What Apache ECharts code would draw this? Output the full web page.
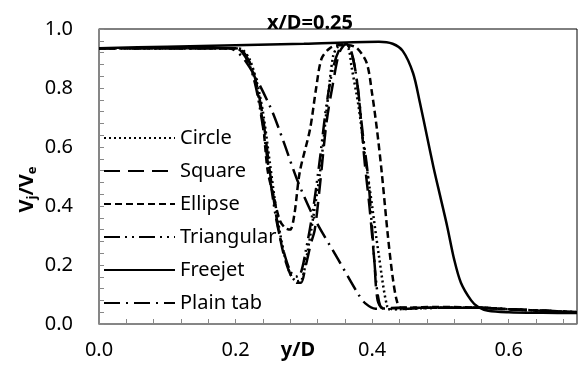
<!DOCTYPE html>
<html>
<head>
<meta charset="utf-8">
<script src="https://cdn.jsdelivr.net/npm/echarts@6/dist/echarts.min.js"></script>
<style>html,body{margin:0;padding:0;background:#fff}#c{width:581px;height:372px}</style>
</head>
<body>
<div id="c"></div>
<script>
const titleText = 'x/D=0.25';
const seriesNames = ['Circle', 'Square', 'Ellipse', 'Triangular', 'Freejet', 'Plain tab'];

const circle = [[0,0.935],[0.2,0.935],[0.21,0.93],[0.22,0.9],[0.23,0.83],[0.24,0.72],[0.25,0.55],[0.26,0.38],[0.27,0.25],[0.28,0.17],[0.29,0.145],[0.297,0.15],[0.305,0.24],[0.315,0.38],[0.324,0.52],[0.334,0.74],[0.343,0.91],[0.35,0.94],[0.36,0.95],[0.366,0.93],[0.37,0.87],[0.38,0.74],[0.389,0.58],[0.397,0.45],[0.41,0.23],[0.422,0.06],[0.43,0.05],[0.5,0.055],[0.56,0.055],[0.6,0.05],[0.65,0.045],[0.7,0.04]];
const square = [[0,0.935],[0.2,0.935],[0.21,0.925],[0.22,0.89],[0.23,0.82],[0.24,0.7],[0.25,0.52],[0.26,0.36],[0.27,0.24],[0.28,0.17],[0.29,0.14],[0.296,0.14],[0.302,0.19],[0.31,0.27],[0.316,0.32],[0.324,0.48],[0.333,0.68],[0.343,0.82],[0.352,0.92],[0.362,0.95],[0.372,0.9],[0.38,0.78],[0.389,0.55],[0.396,0.4],[0.403,0.22],[0.408,0.08],[0.416,0.054],[0.45,0.055],[0.5,0.055],[0.56,0.055],[0.6,0.05],[0.65,0.045],[0.7,0.04]];
const ellipse = [[0,0.935],[0.2,0.935],[0.21,0.925],[0.22,0.89],[0.23,0.81],[0.24,0.68],[0.247,0.52],[0.256,0.43],[0.265,0.35],[0.273,0.325],[0.28,0.32],[0.286,0.37],[0.294,0.515],[0.309,0.66],[0.318,0.8],[0.326,0.9],[0.338,0.935],[0.35,0.945],[0.365,0.945],[0.378,0.935],[0.392,0.885],[0.4,0.78],[0.407,0.66],[0.414,0.515],[0.423,0.3],[0.43,0.16],[0.436,0.08],[0.442,0.055],[0.5,0.058],[0.56,0.055],[0.6,0.05],[0.65,0.045],[0.7,0.04]];
const triangular = [[0,0.935],[0.2,0.935],[0.21,0.92],[0.22,0.88],[0.23,0.8],[0.24,0.67],[0.25,0.5],[0.26,0.35],[0.27,0.25],[0.28,0.18],[0.288,0.16],[0.295,0.17],[0.303,0.25],[0.313,0.38],[0.323,0.55],[0.333,0.74],[0.343,0.87],[0.353,0.935],[0.362,0.95],[0.37,0.92],[0.378,0.82],[0.386,0.65],[0.394,0.5],[0.4,0.32],[0.406,0.14],[0.412,0.06],[0.42,0.05],[0.5,0.055],[0.56,0.055],[0.6,0.05],[0.65,0.045],[0.7,0.04]];
const freejet = [[0,0.935],[0.1,0.94],[0.2,0.945],[0.3,0.95],[0.41,0.957],[0.43,0.95],[0.445,0.925],[0.46,0.85],[0.47,0.75],[0.48,0.64],[0.49,0.53],[0.5,0.43],[0.51,0.33],[0.52,0.22],[0.53,0.14],[0.545,0.08],[0.555,0.058],[0.57,0.045],[0.6,0.04],[0.65,0.038],[0.7,0.037]];
const plainTab = [[0,0.935],[0.19,0.935],[0.215,0.89],[0.25,0.74],[0.27,0.62],[0.29,0.49],[0.315,0.36],[0.35,0.22],[0.38,0.1],[0.39,0.07],[0.405,0.052],[0.45,0.055],[0.5,0.055],[0.56,0.055],[0.6,0.05],[0.65,0.045],[0.7,0.04]];

const xTickLabels = ['0.0', '0.2', '0.4', '0.6'];
const yTickLabels = ['0.0', '0.2', '0.4', '0.6', '0.8', '1.0'];

const allData = [circle, square, ellipse, triangular, freejet, plainTab];
const dashes = [[2, 3], [16, 8], [7, 4], [16, 5, 2, 5, 2, 5], null, [16, 6, 2, 6]];

const FONT = '"Noto Sans", "Open Sans", sans-serif';
const chart = echarts.init(document.getElementById('c'), null, {renderer: 'canvas'});

function majorLabel(v, list) {
  const r = Math.round(v * 100);
  if (r % 20 !== 0) return '';
  const s = (r / 100).toFixed(1);
  return list.indexOf(s) >= 0 ? s : '';
}

chart.setOption({
  animation: false,
  backgroundColor: '#fff',
  title: {
    text: titleText,
    left: 262,
    top: 8,
    textStyle: {fontFamily: FONT, fontSize: 20, fontWeight: 'bold', color: '#000'}
  },
  legend: {
    orient: 'vertical',
    left: 98,
    top: 123,
    itemWidth: 71,
    itemHeight: 20,
    itemGap: 13,
    data: seriesNames,
    itemStyle: {opacity: 0},
    textStyle: {fontFamily: FONT, fontSize: 20, color: '#000', lineHeight: 20}
  },
  grid: {left: 99, right: 4, top: 29, bottom: 48, show: true, borderColor: '#000', borderWidth: 1,
    containLabel: false, outerBoundsMode: 'none'},
  xAxis: {
    type: 'value', min: 0, max: 0.7, interval: 0.04,
    name: 'y/D', nameLocation: 'middle', nameGap: 16, nameMoveOverlap: false,
    nameTextStyle: {fontFamily: FONT, fontSize: 20, fontWeight: 'bold', color: '#000', padding: [0, 80, 0, 0]},
    axisLine: {show: true, lineStyle: {color: '#888', width: 1.5}},
    axisTick: {show: true, interval: 0, inside: true, length: 5, lineStyle: {color: '#888', width: 1}},
    axisLabel: {fontFamily: FONT, fontSize: 20, color: '#000', margin: 16, interval: 0, formatter: v => majorLabel(v, xTickLabels), showMaxLabel: false},
    splitLine: {show: false}
  },
  yAxis: {
    type: 'value', min: 0, max: 1.0, interval: 0.04,
    name: 'V{sub|j}/V{sub|e}', nameLocation: 'middle', nameGap: 60, nameRotate: 90, nameMoveOverlap: false,
    nameTextStyle: {fontFamily: FONT, fontSize: 20, fontWeight: 'bold', color: '#000', padding: [0, 26, 0, 0],
      rich: {sub: {fontFamily: FONT, fontSize: 13, fontWeight: 'bold', color: '#000', padding: [10, 0, 0, 0]}}},
    axisLine: {show: true, lineStyle: {color: '#888', width: 1.5}},
    axisTick: {show: true, interval: 0, inside: true, length: 5, lineStyle: {color: '#888', width: 1}},
    axisLabel: {fontFamily: FONT, fontSize: 20, color: '#000', margin: 26, interval: 0, formatter: v => majorLabel(v, yTickLabels)},
    splitLine: {show: false}
  },
  series: seriesNames.map((name, i) => ({
    name: name,
    type: 'line',
    data: allData[i],
    symbol: 'none',
    smooth: 0.3,
    lineStyle: {color: '#000', width: 2.5, type: dashes[i] || 'solid'},
    itemStyle: {color: '#000'},
    z: i === 4 ? 3 : 2
  }))
});
</script>
</body>
</html>
